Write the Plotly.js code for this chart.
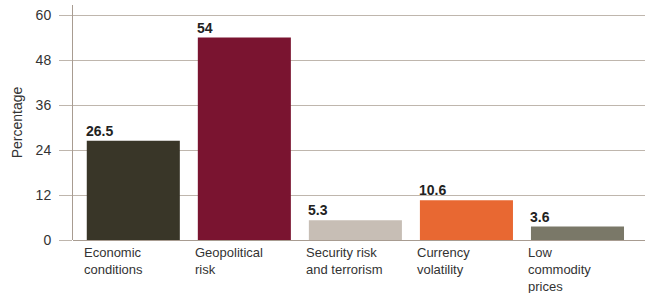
<!DOCTYPE html>
<html>
<head>
<meta charset="utf-8">
<script src="https://cdn.plot.ly/plotly-3.0.1.min.js"></script>
<style>html,body{margin:0;padding:0;background:#fff;}#chart{width:646px;height:293px;}</style>
</head>
<body>
<div id="chart"></div>
<script>
var categories = ["Economic conditions", "Geopolitical risk", "Security risk and terrorism", "Currency volatility", "Low commodity prices"];
var categoryLabels = ["Economic<br>conditions", "Geopolitical<br>risk", "Security risk<br>and terrorism", "Currency<br>volatility", "Low<br>commodity<br>prices"];
var values = [26.5, 54, 5.3, 10.6, 3.6];
var valueLabels = ["26.5", "54", "5.3", "10.6", "3.6"];
var barColors = ["#393628", "#7a1430", "#c7beb5", "#e86832", "#7a7868"];
var yTicks = [0, 12, 24, 36, 48, 60];

var idx = categories.map(function(c, i){ return i; });
var font = "Arial, 'Liberation Sans', sans-serif";
var annotations = [];
categories.forEach(function(c, i){
  annotations.push({x: i, y: values[i], xref: 'x', yref: 'y', text: '<b>' + valueLabels[i] + '</b>',
    showarrow: false, xanchor: 'left', yanchor: 'bottom', xshift: -49, yshift: 0,
    font: {family: font, size: 14, color: '#222'}});
  annotations.push({x: i, y: 0, xref: 'x', yref: 'y', text: categoryLabels[i], align: 'left',
    showarrow: false, xanchor: 'left', yanchor: 'top', xshift: -51, yshift: -3,
    font: {family: font, size: 13, color: '#333'}});
});

var trace = {
  type: 'bar', x: idx, y: values, width: 0.838,
  marker: {color: barColors, line: {width: 0}},
  hoverinfo: 'skip'
};
var layout = {
  width: 646, height: 293,
  margin: {l: 73, r: 1, t: 5, b: 53},
  paper_bgcolor: '#fff', plot_bgcolor: '#fff',
  showlegend: false,
  xaxis: {range: [-0.543, 4.608], showticklabels: false, showgrid: false, zeroline: false,
    ticks: '', showline: false, fixedrange: true},
  yaxis: {range: [0, 62.67], tickvals: yTicks, ticktext: yTicks.map(String),
    showgrid: true, gridcolor: '#bfb6ad', gridwidth: 1,
    ticks: 'outside', ticklen: 13, tickcolor: '#bfb6ad', tickwidth: 1,
    ticklabelstandoff: 5,
    showline: true, linecolor: '#a89c91', linewidth: 1,
    zeroline: true, zerolinecolor: '#a89c91', zerolinewidth: 1,
    tickfont: {family: font, size: 14, color: '#333'},
    title: {text: 'Percentage', font: {family: font, size: 14, color: '#333'}, standoff: 9}},
  annotations: annotations
};
Plotly.newPlot('chart', [trace], layout, {displayModeBar: false, staticPlot: true});
</script>
</body>
</html>
